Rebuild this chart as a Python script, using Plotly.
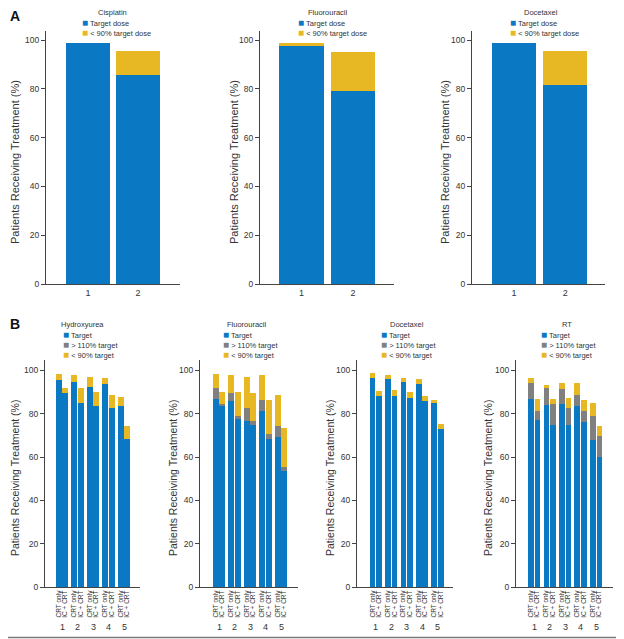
import plotly.graph_objects as go

BLUE = '#0a78c2'
GRAY = '#808080'
YELLOW = '#e8b824'
AXIS = '#444444'
TEXT = '#333333'
FONT = 'Arial'

# the page body has an 8px margin, so the figure is sized to fill the rest of the window
PAD = 8
W, H = 624 - PAD, 639 - PAD

# ─── Panel A data (percent of patients) ─────────────
a_arms = [1, 2]
cis_target = [98.6, 85.8]
cis_under90 = [0.0, 9.6]
fu_a_target = [97.5, 79.2]
fu_a_under90 = [1.1, 15.8]
doc_a_target = [98.6, 81.4]
doc_a_under90 = [0.0, 14.2]

# ─── Panel B data: 5 groups x (CRT only, IC + CRT) ──
b_groups = [1, 2, 3, 4, 5]
b_arms = ['CRT only', 'IC + CRT']
hu_target = [95.5, 89.4, 94.6, 85.0, 92.4, 83.7, 93.8, 82.6, 83.4, 68.4]
hu_over110 = [0, 0, 0, 0, 0, 0, 0, 0, 0, 0]
hu_under90 = [2.9, 2.3, 3.2, 6.7, 4.6, 6.4, 2.5, 6.1, 4.4, 5.9]
fu_b_target = [86.6, 83.7, 86.0, 77.7, 76.7, 74.6, 81.4, 68.4, 69.1, 53.7]
fu_b_over110 = [5.1, 0.6, 3.7, 1.2, 5.9, 2.0, 4.9, 2.2, 5.3, 1.8]
fu_b_under90 = [6.7, 5.8, 8.0, 11.2, 14.4, 12.9, 11.5, 15.7, 14.3, 18.0]
doc_b_target = [96.3, 88.1, 96.1, 88.0, 94.7, 87.4, 93.8, 85.7, 84.9, 72.9]
doc_b_over110 = [0, 0, 0, 0, 0, 0, 0, 0, 0, 0]
doc_b_under90 = [2.3, 2.2, 1.7, 2.9, 1.6, 2.7, 2.3, 2.3, 1.5, 2.3]
rt_target = [86.6, 76.9, 83.8, 74.8, 84.3, 74.8, 83.5, 76.0, 67.8, 60.1]
rt_over110 = [7.4, 4.5, 8.0, 9.5, 7.2, 7.8, 5.2, 5.1, 11.1, 9.6]
rt_under90 = [2.3, 5.2, 1.6, 2.3, 2.5, 4.8, 5.3, 5.3, 6.1, 4.7]

y_ticks = [0, 20, 40, 60, 80, 100]


def px_x(px):
    # window pixel -> paper fraction
    return (px - PAD) / W


def px_y(py):
    return 1 - (py - PAD) / H


fig = go.Figure()
annotations = []
layout = {}


def add_legend(title, title_x, swatch_x, top_y, items):
    annotations.append(dict(
        text=title, x=px_x(title_x), y=px_y(top_y), xref='paper', yref='paper',
        xanchor='center', yanchor='middle', showarrow=False,
        font=dict(size=7.5, color=TEXT, family=FONT)))
    for n, (label, color) in enumerate(items):
        annotations.append(dict(
            text=f'<span style="color:{color};font-size:10px">■</span> {label}',
            x=px_x(swatch_x - 1), y=px_y(top_y + 9.5 + 10 * n),
            xref='paper', yref='paper', xanchor='left', yanchor='middle',
            showarrow=False, font=dict(size=7.5, color=TEXT, family=FONT)))


def add_ytitle(cx, cy, size):
    annotations.append(dict(
        text='Patients Receiving Treatment (%)', textangle=-90,
        x=px_x(cx), y=px_y(cy), xref='paper', yref='paper',
        xanchor='center', yanchor='middle', showarrow=False,
        font=dict(size=size, color=TEXT, family=FONT)))


def axes(n, xdom, xrange, ydom, ytop, **xkw):
    sfx = '' if n == 1 else str(n)
    layout['xaxis' + sfx] = dict(
        domain=[px_x(xdom[0]), px_x(xdom[1])], range=xrange, anchor='y' + sfx,
        showline=True, linecolor=AXIS, linewidth=1, ticks='', showgrid=False,
        zeroline=False, fixedrange=True, automargin=False, **xkw)
    layout['yaxis' + sfx] = dict(
        domain=[px_y(ydom[1]), px_y(ydom[0])], range=[0, ytop], anchor='x' + sfx,
        showline=True, linecolor=AXIS, linewidth=1, ticks='outside', ticklen=4,
        tickcolor=AXIS, tickvals=y_ticks, showgrid=False, zeroline=False,
        automargin=False, tickfont=dict(size=8.5, color=TEXT, family=FONT))


# ─── Panel A ─────────────────────────────────────────
panel_a = [
    ('Cisplatin', cis_target, cis_under90, (46, 180), [0.16, 2.84], 113, 81, 15),
    ('Fluorouracil', fu_a_target, fu_a_under90, (260, 394), [0.194, 2.796], 328, 297, 234),
    ('Docetaxel', doc_a_target, doc_a_under90, (472, 605), [0.176, 2.78], 541, 509, 445),
]
for n, (name, target, under, xdom, xr, tx, sx, ty) in enumerate(panel_a, start=1):
    sfx = '' if n == 1 else str(n)
    fig.add_trace(go.Bar(x=a_arms, y=target, width=0.87, marker=dict(color=BLUE, line_width=0),
                         xaxis='x' + sfx, yaxis='y' + sfx, name='Target dose', showlegend=False))
    fig.add_trace(go.Bar(x=a_arms, y=under, width=0.87, marker=dict(color=YELLOW, line_width=0),
                         xaxis='x' + sfx, yaxis='y' + sfx, name='< 90% target dose', showlegend=False))
    axes(n, xdom, xr, (31, 284), 103.7, tickvals=a_arms, ticktext=[str(a) for a in a_arms],
         tickfont=dict(size=9, color=TEXT, family=FONT))
    add_legend(name, tx, sx, 12.5, [('Target dose', BLUE), ('< 90% target dose', YELLOW)])
    add_ytitle(ty, 162, 11)

# ─── Panel B ─────────────────────────────────────────
bar_x = [g + (-0.21 if a == 0 else 0.21) for g in b_groups for a in range(len(b_arms))]
bar_labels = [arm for g in b_groups for arm in b_arms]

panel_b = [
    ('Hydroxyurea', hu_target, hu_over110, hu_under90, (45, 140), [-0.097, 6.03], 82, 62, 15),
    ('Fluorouracil', fu_b_target, fu_b_over110, fu_b_under90, (200, 298), [-0.23, 6.09], 247, 222, 173),
    ('Docetaxel', doc_b_target, doc_b_over110, doc_b_under90, (357, 453), [-0.21, 6.0], 407, 380, 330),
    ('RT', rt_target, rt_over110, rt_under90, (516, 613), [-0.17, 6.09], 567, 540, 488),
]
for n, (name, target, over, under, xdom, xr, tx, sx, ty) in enumerate(panel_b, start=4):
    sfx = str(n)
    for vals, color, label in [(target, BLUE, 'Target'), (over, GRAY, '> 110% target'),
                               (under, YELLOW, '< 90% target')]:
        fig.add_trace(go.Bar(x=bar_x, y=vals, width=0.37, marker=dict(color=color, line_width=0),
                             xaxis='x' + sfx, yaxis='y' + sfx, name=label, showlegend=False))
    axes(n, xdom, xr, (360, 587), 104.8, tickvals=bar_x, ticktext=bar_labels, tickangle=-90,
         tickfont=dict(size=6.5, color=TEXT, family=FONT))
    add_legend(name, tx, sx, 324.5, [('Target', BLUE), ('> 110% target', GRAY), ('< 90% target', YELLOW)])
    add_ytitle(ty, 478, 10.5)
    for g in b_groups:
        annotations.append(dict(text=str(g), x=g, y=px_y(627), xref='x' + sfx, yref='paper',
                                xanchor='center', yanchor='middle', showarrow=False,
                                font=dict(size=9, color=TEXT, family=FONT)))

# panel letters
for letter, ly in [('A', 16), ('B', 324)]:
    annotations.append(dict(text=f'<b>{letter}</b>', x=px_x(8), y=px_y(ly), xref='paper', yref='paper',
                            xanchor='left', yanchor='middle', showarrow=False,
                            font=dict(size=14, color='#111111', family=FONT)))

# frame: right and bottom edges of the figure border
frame = [
    dict(type='line', xref='paper', yref='paper', x0=px_x(622.5), x1=px_x(622.5), y0=px_y(637.5), y1=1,
         line=dict(color='#7a7a7a', width=1.5)),
    dict(type='line', xref='paper', yref='paper', x0=0, x1=px_x(622.5), y0=px_y(637.5), y1=px_y(637.5),
         line=dict(color='#7a7a7a', width=1.5)),
]

fig.update_layout(
    width=W, height=H,
    margin=dict(l=0, r=0, t=0, b=0, autoexpand=False),
    barmode='stack',
    paper_bgcolor='white', plot_bgcolor='white',
    font=dict(family=FONT, color=TEXT),
    showlegend=False,
    annotations=annotations,
    shapes=frame,
    **layout
)

fig.write_html("out.html")
